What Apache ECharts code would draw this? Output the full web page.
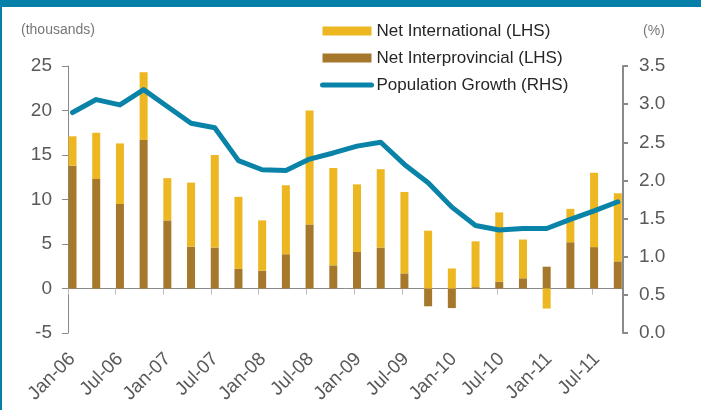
<!DOCTYPE html>
<html>
<head>
<meta charset="utf-8">
<script src="https://cdn.jsdelivr.net/npm/echarts@6/dist/echarts.min.js"></script>
<style>
html,body{margin:0;padding:0;background:#fff;}
#chart{position:absolute;left:0;top:0;width:701px;height:410px;}
.bd{position:absolute;background:#0780a9;}
</style>
</head>
<body>
<div id="chart"></div>
<div class="bd" style="left:0;top:0;width:701px;height:7px;"></div>
<div class="bd" style="left:0;top:0;width:2px;height:410px;"></div>
<script>
// Quarterly data, Q1-2006 .. Q4-2011
const quarters = ['Q1-06','Q2-06','Q3-06','Q4-06','Q1-07','Q2-07','Q3-07','Q4-07','Q1-08','Q2-08','Q3-08','Q4-08',
                  'Q1-09','Q2-09','Q3-09','Q4-09','Q1-10','Q2-10','Q3-10','Q4-10','Q1-11','Q2-11','Q3-11','Q4-11'];
const tickLabels = ['Jan-06','Jul-06','Jan-07','Jul-07','Jan-08','Jul-08','Jan-09','Jul-09','Jan-10','Jul-10','Jan-11','Jul-11'];
const netInterprovincial = [13.8,12.3,9.5,16.7,7.65,4.7,4.6,2.2,2.0,3.85,7.2,2.6,4.1,4.6,1.7,-2.0,-2.2,0.15,0.75,1.15,2.45,5.2,4.65,3.05];
const netInternational = [3.3,5.2,6.8,7.6,4.75,7.2,10.4,8.1,5.65,7.75,12.8,10.95,7.6,8.8,9.15,6.5,2.25,5.15,7.8,4.35,-2.25,3.75,8.35,7.65];
const popGrowth = [2.89,3.06,2.99,3.19,2.97,2.75,2.69,2.26,2.14,2.13,2.28,2.36,2.45,2.50,2.21,1.97,1.65,1.41,1.35,1.37,1.37,1.49,1.60,1.72];

// frame axis (visible) uses quarter index as value
const X_MIN = -0.18, X_MAX = 23.1;
const labelPos = tickLabels.map((_, k) => 2 * k);
const tickPos = tickLabels.map((_, k) => X_MIN + 2 * k);

const YEL = '#edb721', BRN = '#a5782b', BLU = '#0a83a9';
const FONT = '"Liberation Sans", Arial, sans-serif';
const GRID_TOP = 66, GRID_BOTTOM = 77;

const chart = echarts.init(document.getElementById('chart'), null, {renderer: 'canvas'});
chart.setOption({
  animation: false,
  backgroundColor: '#fff',
  textStyle: {fontFamily: FONT},
  grid: [
    {left: 68, right: 78, top: GRID_TOP, bottom: GRID_BOTTOM, containLabel: false},
    {left: 60.65, right: 71.35, top: GRID_TOP, bottom: GRID_BOTTOM, containLabel: false}
  ],
  legend: {
    left: 315, top: 16, orient: 'vertical', itemGap: 7,
    itemWidth: 49, itemHeight: 9,
    textStyle: {fontSize: 17, color: '#262626', fontFamily: FONT, lineHeight: 20},
    data: [
      {name: 'Net International (LHS)', icon: 'rect'},
      {name: 'Net Interprovincial (LHS)', icon: 'rect'},
      {name: 'Population Growth (RHS)', itemStyle: {opacity: 0}, lineStyle: {width: 5, cap: 'round'}}
    ]
  },
  xAxis: [
    {
      gridIndex: 0, type: 'value', min: X_MIN, max: X_MAX, interval: 2,
      axisLine: {onZero: true, lineStyle: {color: '#8a8a8a', width: 1}},
      axisTick: {show: true, length: 6, customValues: tickPos, lineStyle: {color: '#bdbdbd'}},
      axisLabel: {show: false},
      splitLine: {show: false}
    },
    {
      gridIndex: 0, type: 'value', min: X_MIN, max: X_MAX, position: 'bottom',
      axisLine: {show: false, onZero: false},
      axisTick: {show: false},
      splitLine: {show: false},
      axisLabel: {
        show: true, rotate: 45, margin: 23, fontSize: 19, color: '#595959', fontFamily: FONT,
        customValues: labelPos,
        formatter: v => { const k = Math.round(v / 2); return Math.abs(v - 2 * k) < 0.01 ? tickLabels[k] : ''; }
      }
    },
    {
      gridIndex: 1, type: 'category', data: quarters, boundaryGap: true,
      axisLine: {show: false}, axisTick: {show: false}, axisLabel: {show: false}, splitLine: {show: false}
    }
  ],
  yAxis: [
    {
      gridIndex: 0, type: 'value', min: -5, max: 25, interval: 5,
      name: '(thousands)', nameLocation: 'end', nameGap: 36,
      nameTextStyle: {fontSize: 14, color: '#777', align: 'center', verticalAlign: 'middle', padding: [0, 20, 0, 0], fontFamily: FONT},
      axisLine: {show: true, onZero: false, lineStyle: {color: '#8a8a8a'}},
      axisTick: {show: true, length: 6, lineStyle: {color: '#8a8a8a'}},
      axisLabel: {fontSize: 19, color: '#595959', margin: 16, fontFamily: FONT},
      splitLine: {show: false}
    },
    {
      gridIndex: 0, type: 'value', min: 0, max: 3.5, interval: 0.5, position: 'right',
      name: '(%)', nameLocation: 'end', nameGap: 35,
      nameTextStyle: {fontSize: 14, color: '#777', align: 'center', verticalAlign: 'middle', padding: [0, 0, 0, 62], fontFamily: FONT},
      axisLine: {show: true, onZero: false, lineStyle: {color: '#8a8a8a', width: 2}},
      axisTick: {show: true, length: 5, lineStyle: {color: '#8a8a8a', width: 2}},
      axisLabel: {fontSize: 19, color: '#595959', margin: 16, fontFamily: FONT, formatter: v => v.toFixed(1)},
      splitLine: {show: false}
    },
    {
      gridIndex: 1, type: 'value', min: -5, max: 25, interval: 5,
      axisLine: {show: false}, axisTick: {show: false}, axisLabel: {show: false}, splitLine: {show: false}
    },
    {
      gridIndex: 1, type: 'value', min: 0, max: 3.5, interval: 0.5, position: 'right',
      axisLine: {show: false}, axisTick: {show: false}, axisLabel: {show: false}, splitLine: {show: false}
    }
  ],
  series: [
    {
      name: 'Net Interprovincial (LHS)', type: 'bar', stack: 'mig', barWidth: 8,
      xAxisIndex: 2, yAxisIndex: 2,
      itemStyle: {color: BRN},
      data: netInterprovincial
    },
    {
      name: 'Net International (LHS)', type: 'bar', stack: 'mig', barWidth: 8,
      xAxisIndex: 2, yAxisIndex: 2,
      itemStyle: {color: YEL},
      data: netInternational
    },
    {
      name: 'Population Growth (RHS)', type: 'line', xAxisIndex: 2, yAxisIndex: 3,
      symbol: 'none', showSymbol: false,
      lineStyle: {color: BLU, width: 5, cap: 'round', join: 'round'},
      itemStyle: {color: BLU},
      data: popGrowth,
      z: 5
    }
  ]
});
</script>
</body>
</html>
